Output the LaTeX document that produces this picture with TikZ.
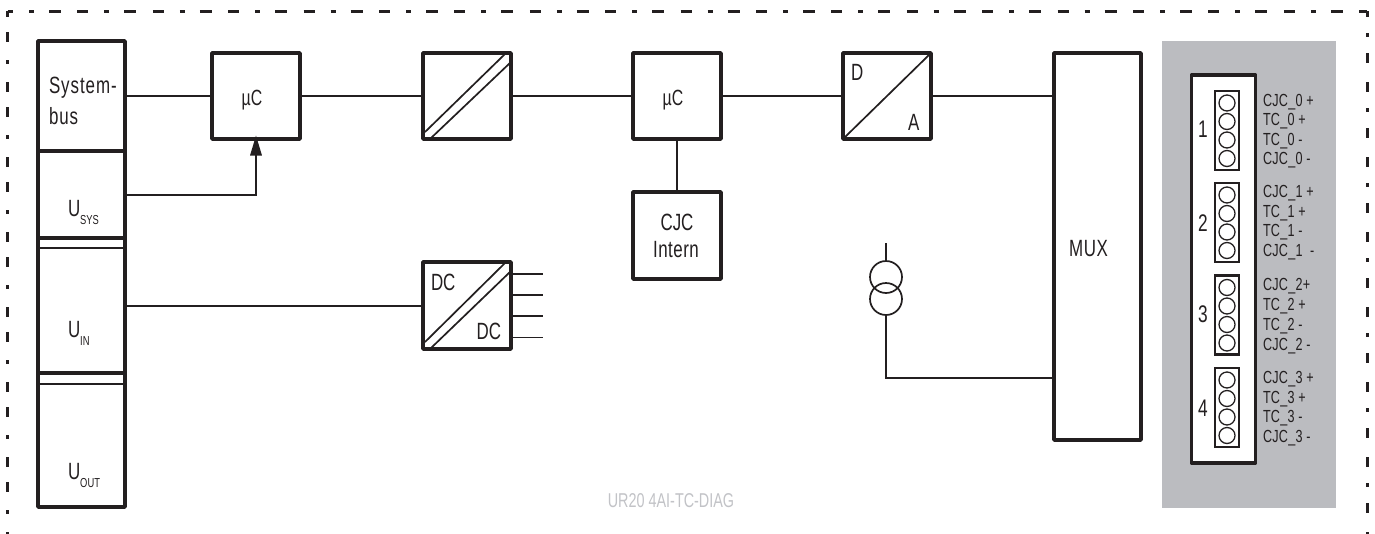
\documentclass[tikz,border=0pt]{standalone}
\usepackage{fontspec}
\setmainfont[FakeStretch=0.72]{Liberation Sans}
\definecolor{ink}{HTML}{231F20}
\definecolor{panel}{HTML}{BBBCC0}
\definecolor{capt}{HTML}{C2C3C7}
\usetikzlibrary{arrows.meta}
\tikzset{
  every node/.style={outer sep=0pt},
  frametop/.style={draw=ink,line width=3pt,dash pattern=on 11pt off 16pt on 5pt off 15pt on 12pt off 16.4pt,dash phase=5.5pt},
  frameleft/.style={draw=ink,line width=3pt,dash pattern=on 10pt off 15pt on 10pt off 18pt on 4pt off 18pt,dash phase=4pt},
  frameright/.style={draw=ink,line width=3pt,dash pattern=on 10pt off 16pt on 4pt off 16pt on 10pt off 19pt,dash phase=4pt},
  heavy/.style={draw=ink,line width=3.6pt,line join=round,line cap=round},
  thinbar/.style={draw=ink,line width=2.4pt},
  wire/.style={draw=ink,line width=1.7pt},
  lab/.style={text=ink,font=\fontsize{23.5}{26}\selectfont,inner sep=0pt},
  pin/.style={text=ink,font=\fontsize{17.5}{19}\selectfont\addfontfeature{LetterSpace=1.5},inner sep=0pt,anchor=west},
  num/.style={text=ink,font=\fontsize{24}{26}\selectfont,inner sep=0pt},
  ccirc/.style={draw=ink,line width=1.3pt,fill=white,circle,minimum size=16pt,inner sep=0pt},
  blockbox/.style={draw=ink,line width=2.2pt,fill=white,minimum width=24pt,minimum height=79pt,inner sep=0pt},
  box/.style={heavy,fill=white,minimum width=88pt,inner sep=0pt,minimum height=86pt},
  cell/.style={minimum width=87pt,anchor=north west,inner sep=0pt},
  srcc/.style={draw=ink,line width=1.7pt,circle,minimum size=32pt,inner sep=0pt},
}
\newcommand{\subt}[2]{#1\raisebox{-8pt}{\fontsize{13}{14}\selectfont #2}}
\begin{document}
\begin{tikzpicture}[x=1pt,y=-1pt]
\useasboundingbox (0,0) rectangle (1375,533);
\fill[white] (0,0) rectangle (1375,533);
% frame
\coordinate (f1) at (7.5,11);
\coordinate (f2) at (1367,11);
\coordinate (f3) at (1367,535);
\coordinate (f4) at (7.5,535);
\draw[frametop] (f1) -- (f2);
\draw[frameleft] (f1) -- (f4);
\draw[frameright] (f2) -- (f3);
% left column
\node[cell,minimum height=110pt] (bus) at (38,41) {};
\node[cell,minimum height=87pt] (usys) at (38,151) {};
\node[cell,minimum height=125pt] (uin) at (38,248) {};
\node[cell,minimum height=123pt] (uout) at (38,384) {};
\draw[heavy] (bus.north west) rectangle (uout.south east);
\draw[heavy] (bus.south west) -- (bus.south east);
\draw[heavy] (usys.south west) -- (usys.south east);
\draw[heavy] (uin.south west) -- (uin.south east);
\draw[thinbar] (uin.north west) -- (uin.north east);
\draw[thinbar] (uout.north west) -- (uout.north east);
\node[lab,anchor=base west] (bt1) at (49,93) {\addfontfeature{LetterSpace=4}System-};
\node[lab,anchor=base west] (bt2) at (49,124) {\addfontfeature{LetterSpace=4}bus};
\node[lab,anchor=base west] (t2) at (68,216) {\subt{U}{SYS}};
\node[lab,anchor=base west] (t3) at (68,337) {\subt{U}{IN}};
\node[lab,anchor=base west] (t4) at (68,479) {\subt{U}{OUT}};
% top row
\node[box,anchor=north west] (mc1) at (212,53) {};
\node[lab,anchor=base,font=\fontsize{22}{24}\selectfont] (mc1t) at (252,105) {µC};
\node[box,anchor=north west] (conv) at (423,53) {};
\node[box,anchor=north west] (mc2) at (633,53) {};
\node[lab,anchor=base,font=\fontsize{22}{24}\selectfont] (mc2t) at (673,105) {µC};
\node[box,anchor=north west] (da) at (843,53) {};
\node[lab,anchor=base west] (dl) at (851,80) {D};
\node[lab,anchor=base west] (al) at (908,130) {A};
\node[box,anchor=north west,minimum width=87pt,minimum height=387pt] (mux) at (1054,53) {};
\node[lab,anchor=base west] (muxt) at (1069,256) {\addfontfeature{LetterSpace=3}MUX};
\node[box,anchor=north west,minimum height=87pt] (cjc) at (633,192) {};
\node[lab,anchor=base] (cjct1) at (677,230) {CJC};
\node[lab,anchor=base] (cjct2) at (676,257) {\addfontfeature{LetterSpace=2}Intern};
\node[box,anchor=north west,minimum height=87pt] (dc) at (423,262) {};
\node[lab,anchor=base west] (d1) at (431,290) {DC};
\node[lab,anchor=base east] (d2) at (501,339) {DC};
% diagonals
\draw[wire] (da.south west) -- (da.north east);
\draw[wire] ([shift={(2,-7)}]conv.south west) -- ([shift={(-6,1)}]conv.north east);
\draw[wire] ([shift={(7,0)}]conv.south west) -- ([shift={(0,9)}]conv.north east);
\draw[wire] ([shift={(2,-7)}]dc.south west) -- ([shift={(-6,1)}]dc.north east);
\draw[wire] ([shift={(7,0)}]dc.south west) -- ([shift={(0,9)}]dc.north east);
% wires
\draw[wire] (bus.east |- 0,96) -- (mc1.west |- 0,96);
\draw[wire] (mc1.east |- 0,96) -- (conv.west |- 0,96);
\draw[wire] (conv.east |- 0,96) -- (mc2.west |- 0,96);
\draw[wire] (mc2.east |- 0,96) -- (da.west |- 0,96);
\draw[wire] (da.east |- 0,96) -- (mux.west |- 0,96);
\draw[wire] (mc2.south) -- (cjc.north);
\draw[wire,-{Triangle[length=20pt,width=11.5pt]}] (usys.east |- 0,195) -| ([yshift=3.5pt]mc1.south);
\draw[wire] (uin.east |- 0,306) -- (dc.west |- 0,306);
\coordinate (o1) at (543,274);
\coordinate (o2) at (543,295);
\coordinate (o3) at (543,316);
\coordinate (o4) at (543,337.5);
\draw[wire] (dc.east |- o1) -- (o1);
\draw[wire] (dc.east |- o2) -- (o2);
\draw[wire] (dc.east |- o3) -- (o3);
\draw[wire] (dc.east |- o4) -- (o4);
% current source
\node[srcc] (s1) at (886,277) {};
\node[srcc] (s2) at (886,299) {};
\coordinate (stop) at (886,243);
\draw[wire] (stop) -- (s1.north);
\draw[wire] (s2.south) |- (mux.west |- 0,378);
% panel
\fill[panel] (1162,41) rectangle (1336,508);
\node[heavy,fill=white,anchor=north west,minimum width=64pt,minimum height=388pt,inner sep=0pt] (term) at (1191.5,75) {};
\foreach \n/\yy/\ny in {1/91/129,2/183/223,3/275.5/314,4/368/408}{
  \node[blockbox,anchor=north] (b\n) at (1227,\yy) {};
  \foreach \k/\d in {1/12,2/30.5,3/49,4/67.5}{
    \node[ccirc] (c\n\k) at (1227,\yy+\d) {};
  }
  \node[num] (n\n) at (1203,\ny) {\n};
}
\node[pin] (p01) at (1263,102) {CJC\_0 +};
\node[pin] (p02) at (1263,121) {TC\_0 +};
\node[pin] (p03) at (1263,141) {TC\_0 -};
\node[pin] (p04) at (1263,160) {CJC\_0 -};
\node[pin] (p11) at (1263,193) {CJC\_1 +};
\node[pin] (p12) at (1263,213) {TC\_1 +};
\node[pin] (p13) at (1263,232) {TC\_1 -};
\node[pin] (p14) at (1263,252) {CJC\_1 \ -};
\node[pin] (p21) at (1263,286) {CJC\_2+};
\node[pin] (p22) at (1263,306) {TC\_2 +};
\node[pin] (p23) at (1263,326) {TC\_2 -};
\node[pin] (p24) at (1263,346) {CJC\_2 -};
\node[pin] (p31) at (1263,379) {CJC\_3 +};
\node[pin] (p32) at (1263,399) {TC\_3 +};
\node[pin] (p33) at (1263,418) {TC\_3 -};
\node[pin] (p34) at (1263,438) {CJC\_3 -};
\node[text=capt,font=\fontsize{20}{22}\selectfont,inner sep=0pt] (cap) at (671,501) {UR20 4AI-TC-DIAG};
\end{tikzpicture}
\end{document}
